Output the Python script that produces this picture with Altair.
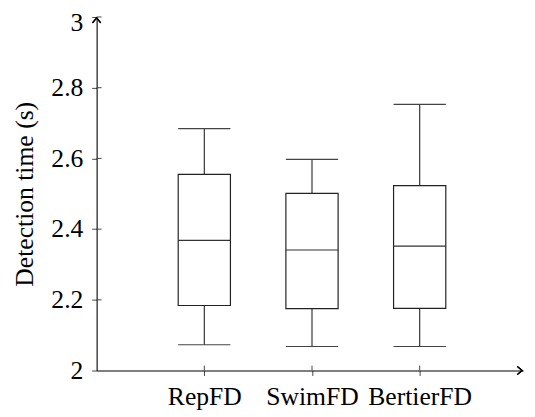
import altair as alt
import pandas as pd

categories = ["RepFD", "SwimFD", "BertierFD"]
lower_whisker = [2.073, 2.068, 2.068]
q1 = [2.184, 2.175, 2.176]
median = [2.368, 2.341, 2.352]
q3 = [2.555, 2.501, 2.523]
upper_whisker = [2.684, 2.597, 2.753]
y_ticks = [2, 2.2, 2.4, 2.6, 2.8, 3]

W, H = 433, 359
HALF = 0.2425
FONT = "Liberation Serif"
FS = 26

df = pd.DataFrame({
    "cat": categories,
    "pos": [i + 1 for i in range(len(categories))],
    "lo": lower_whisker, "q1": q1, "med": median, "q3": q3, "hi": upper_whisker,
})

label_expr = " : ".join(
    [f"datum.value == {i+1} ? '{c}'" for i, c in enumerate(categories)]
) + " : ''"

xs = alt.Scale(domain=[0, 3.96], nice=False, zero=False)
ys = alt.Scale(domain=[2, 3], nice=False, zero=False)

x_axis = alt.Axis(values=[1, 2, 3], labelExpr=label_expr, title=None, grid=False,
                  domainColor="black", domainWidth=1.1, tickColor="#444", tickSize=5,
                  labelFont=FONT, labelFontSize=FS, labelColor="black", labelPadding=9)
y_axis = alt.Axis(values=y_ticks, format="~g", title="Detection time (s)", grid=False,
                  domainColor="black", domainWidth=1.1, tickColor="#444", tickSize=5,
                  labelFont=FONT, labelFontSize=FS, labelColor="black", labelPadding=9,
                  labelOffset=alt.condition("datum.value == 3", alt.value(6), alt.value(0)),
                  titleFont=FONT, titleFontSize=FS, titleFontWeight="normal",
                  titleColor="black", titlePadding=14)

base = alt.Chart(df).transform_calculate(xl=f"datum.pos - {HALF}", xr=f"datum.pos + {HALF}")

whisk_lo = base.mark_rule(color="#333", strokeWidth=1.2).encode(
    x=alt.X("pos:Q", scale=xs, axis=x_axis), y=alt.Y("lo:Q", scale=ys, axis=y_axis), y2="q1:Q")
whisk_hi = base.mark_rule(color="#333", strokeWidth=1.2).encode(
    x="pos:Q", y="q3:Q", y2="hi:Q")
cap_lo = base.mark_rule(color="#444", strokeWidth=1.2).encode(x="xl:Q", x2="xr:Q", y="lo:Q")
cap_hi = base.mark_rule(color="#444", strokeWidth=1.2).encode(x="xl:Q", x2="xr:Q", y="hi:Q")
box = base.mark_rect(fill="white", stroke="#222", strokeWidth=1.2).encode(
    x="xl:Q", x2="xr:Q", y="q1:Q", y2="q3:Q")
med = base.mark_rule(color="#333", strokeWidth=1.2).encode(x="xl:Q", x2="xr:Q", y="med:Q")

ytick_df = pd.DataFrame({"t": [t for t in y_ticks if t != 2]})
inner_y = alt.Chart(ytick_df).mark_rule(color="#444", strokeWidth=1).encode(
    y="t:Q", x=alt.value(0), x2=alt.value(5))
xtick_df = pd.DataFrame({"p": [i + 1 for i in range(len(categories))]})
inner_x = alt.Chart(xtick_df).mark_rule(color="#444", strokeWidth=1).encode(
    x="p:Q", y=alt.value(H), y2=alt.value(H - 5))

arrow_up = alt.Chart(xtick_df).mark_point(
    shape="M -1 0.7 L 0 -0.5 L 1 0.7", filled=False, stroke="black", strokeWidth=1.2,
    size=70, opacity=1).encode(x=alt.value(0), y=alt.value(3))
arrow_right = alt.Chart(xtick_df).mark_point(
    shape="M -0.7 -1 L 0.5 0 L -0.7 1", filled=False, stroke="black", strokeWidth=1.2,
    size=70, opacity=1).encode(x=alt.value(W - 3), y=alt.value(H))

chart = alt.layer(whisk_lo, whisk_hi, cap_lo, cap_hi, box, med, inner_y, inner_x,
                  arrow_up, arrow_right).properties(
    width=W, height=H,
    autosize=alt.AutoSizeParams(type="none"),
    padding={"left": 90, "top": 6, "right": 4, "bottom": 40},
).configure_view(stroke=None)

chart.save("out.html", embed_options={"renderer": "svg", "actions": False})
